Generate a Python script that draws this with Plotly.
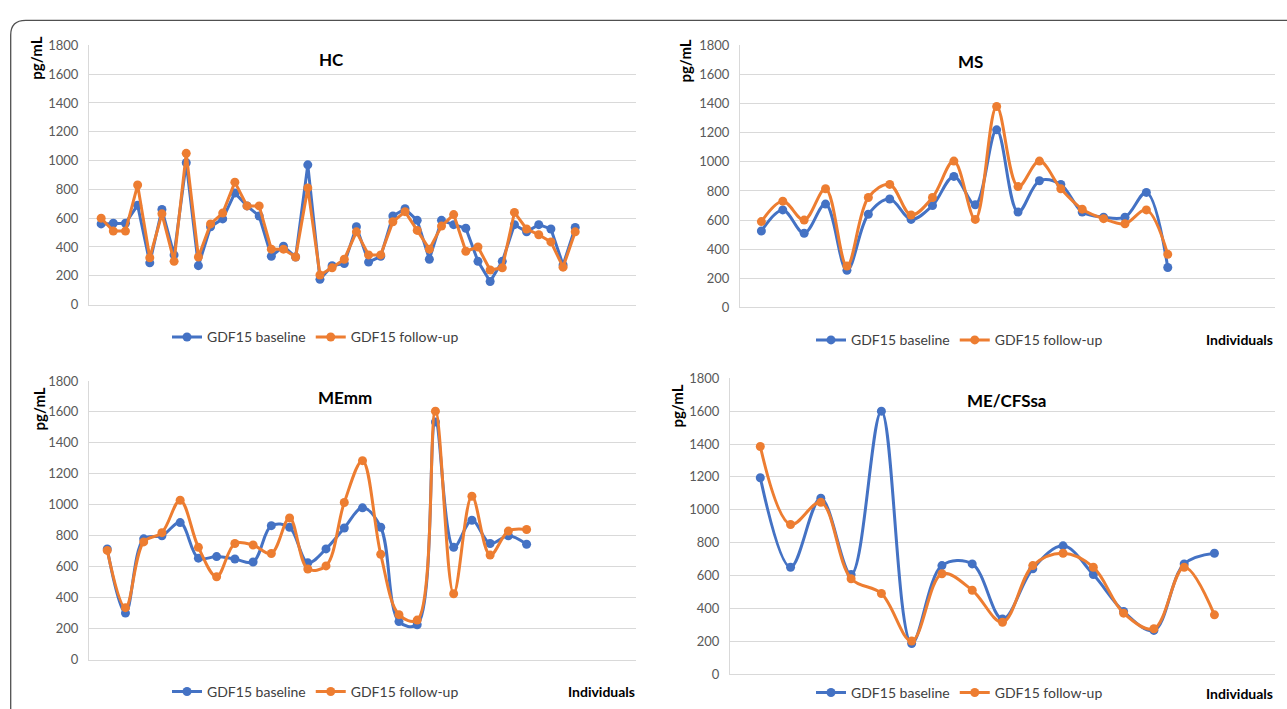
import plotly.graph_objects as go

# ---------------- data ----------------
hc_baseline = [560, 565, 565, 690, 290, 660, 345, 985, 270, 540, 595, 775, 685, 615, 335, 405, 330, 970, 175, 270,
               285, 540, 295, 335, 615, 665, 585, 315, 585, 555, 530, 300, 160, 300, 555, 505, 555, 525, 275, 535]
hc_followup = [600, 510, 510, 830, 325, 630, 300, 1050, 330, 560, 635, 850, 685, 685, 385, 385, 330, 810, 205, 255,
               315, 505, 345, 345, 575, 645, 515, 385, 545, 625, 370, 400, 240, 255, 640, 525, 485, 435, 260, 505]

ms_baseline = [525, 670, 510, 710, 255, 640, 745, 605, 700, 900, 705, 1220, 655, 870, 845, 655, 620, 620, 790, 275]
ms_followup = [590, 730, 600, 815, 285, 755, 845, 635, 755, 1005, 605, 1380, 830, 1005, 815, 675, 610, 575, 670, 365]

memm_baseline = [715, 300, 780, 800, 885, 655, 665, 650, 630, 865, 855, 625, 715, 850, 980, 855, 245, 225, 1535, 725,
                 900, 750, 800, 745]
memm_followup = [705, 335, 760, 820, 1030, 725, 535, 750, 740, 685, 915, 585, 605, 1015, 1285, 680, 290, 255, 1605, 425,
                 1055, 675, 830, 840]

mecfs_baseline = [1195, 650, 1070, 605, 1600, 185, 660, 670, 335, 640, 780, 605, 380, 265, 670, 735]
mecfs_followup = [1385, 910, 1045, 580, 490, 200, 610, 510, 315, 660, 735, 650, 370, 275, 650, 360]

panel_titles = ["HC", "MS", "MEmm", "ME/CFSsa"]
series_names = ["GDF15 baseline", "GDF15 follow-up"]
y_ticks = [0, 200, 400, 600, 800, 1000, 1200, 1400, 1600, 1800]
y_label = "pg/mL"
x_label = "Individuals"

# ---------------- layout helpers ----------------
W, H = 1287, 709
BLUE = "#4472C4"
ORANGE = "#ED7D31"
GRID = "#D9D9D9"
FONT = "Lato"


def px(x):
    return x / W


def py(y):
    return 1 - y / H


# panel geometry in pixels: (left, right, top(1800), bottom(0)), x-range
panels = [
    dict(box=(89, 636, 38.3, 304.3), xr=(0, 45), shape="linear", title_xy=(331, 53),
         gap=(304, 410), ylab=(36, 52), legend=(167, 338), indiv=None,
         data=(hc_baseline, hc_followup)),
    dict(box=(740, 1274.7, 38.3, 307.3), xr=(0, 25), shape="spline", title_xy=(970, 55),
         gap=(943, 1036), ylab=(685, 55), legend=(811, 341), indiv=(1239, 340),
         data=(ms_baseline, ms_followup)),
    dict(box=(89, 636, 382.7, 668.5), xr=(0, 30), shape="spline", title_xy=(345, 400),
         gap=(300, 394), ylab=(39, 412), legend=(167, 701.7), indiv=(601, 701),
         data=(memm_baseline, memm_followup)),
    dict(box=(730, 1275, 380, 683.3), xr=(0, 18), shape="spline", title_xy=(1007, 403),
         gap=None, ylab=(677, 409), legend=(811, 702.7), indiv=(1239, 703),
         data=(mecfs_baseline, mecfs_followup)),
]

fig = go.Figure()
layout = dict(
    width=W, height=H,
    margin=dict(l=0, r=0, t=0, b=0),
    paper_bgcolor="white", plot_bgcolor="white",
    font=dict(family=FONT, size=13, color="#595959"),
    showlegend=True,
)
annotations = []
shapes = []

for i, p in enumerate(panels):
    k = i + 1
    sx = "" if k == 1 else str(k)
    l, r, t, b = p["box"]
    base, foll = p["data"]
    xs = list(range(1, len(base) + 1))
    leg = "legend" if k == 1 else f"legend{k}"
    for name, vals, col in ((series_names[0], base, BLUE), (series_names[1], foll, ORANGE)):
        fig.add_trace(go.Scatter(
            x=xs, y=vals, name=name, mode="lines+markers",
            line=dict(color=col, width=3, shape=p["shape"], smoothing=1.0),
            marker=dict(color=col, size=9, symbol="circle"),
            xaxis="x" + sx, yaxis="y" + sx, legend=leg, showlegend=True,
        ))
    layout["xaxis" + sx] = dict(
        domain=[px(l), px(r)], range=list(p["xr"]), anchor="y" + sx,
        showgrid=False, zeroline=False, showticklabels=False, ticks="",
        showline=True, linecolor=GRID, linewidth=1,
    )
    layout["yaxis" + sx] = dict(
        domain=[py(b), py(t)], range=[0, 1800], anchor="x" + sx,
        tickvals=y_ticks, ticks="", ticklabelstandoff=7,
        tickfont=dict(family=FONT, size=13, color="#595959"),
        showgrid=True, gridcolor=GRID, gridwidth=1, zeroline=False,
        showline=True, linecolor=GRID, linewidth=1,
    )
    lx, ly = p["legend"]
    layout[leg] = dict(
        orientation="h", x=px(lx), y=py(ly), xanchor="left", yanchor="middle",
        xref="paper", yref="paper", bgcolor="rgba(0,0,0,0)",
        font=dict(family=FONT, size=14, color="#404040"),
        itemwidth=30, tracegroupgap=0,
    )
    tx, ty = p["title_xy"]
    annotations.append(dict(
        x=px(tx), y=py(ty), xref="paper", yref="paper", text=f"<b>{panel_titles[i]}</b>",
        showarrow=False, xanchor="center", yanchor="middle",
        font=dict(family=FONT, size=17, color="#000000"),
    ))
    yx, yy = p["ylab"]
    annotations.append(dict(
        x=px(yx), y=py(yy), xref="paper", yref="paper", text=f"<b>{y_label}</b>",
        showarrow=False, xanchor="center", yanchor="middle", textangle=-90,
        font=dict(family=FONT, size=15, color="#000000"),
    ))
    if p["indiv"]:
        ix, iy = p["indiv"]
        annotations.append(dict(
            x=px(ix), y=py(iy), xref="paper", yref="paper", text=f"<b>{x_label}</b>",
            showarrow=False, xanchor="center", yanchor="middle",
            font=dict(family=FONT, size=14, color="#000000"),
        ))
    if p["gap"]:
        g0, g1 = p["gap"]
        shapes.append(dict(
            type="rect", xref="paper", yref="paper",
            x0=px(g0), x1=px(g1), y0=py(t + 5), y1=py(t - 5),
            fillcolor="white", line=dict(width=0), layer="above",
        ))

# outer rounded frame (top-left corner visible)
L0, T0, R = 10.7, 12.7, 15
path = (f"M {px(L0)},{py(H + 20)} L {px(L0)},{py(T0 + R)} "
        f"Q {px(L0)},{py(T0)} {px(L0 + R)},{py(T0)} L {px(W + 20)},{py(T0)}")
shapes.append(dict(type="path", xref="paper", yref="paper", path=path,
                   line=dict(color="#505050", width=1.3), layer="above"))

layout["annotations"] = annotations
layout["shapes"] = shapes
fig.update_layout(**layout)
fig.write_html("out.html", config={"displayModeBar": False},
               post_script="document.body.style.margin='0px';document.body.style.overflow='hidden';")
